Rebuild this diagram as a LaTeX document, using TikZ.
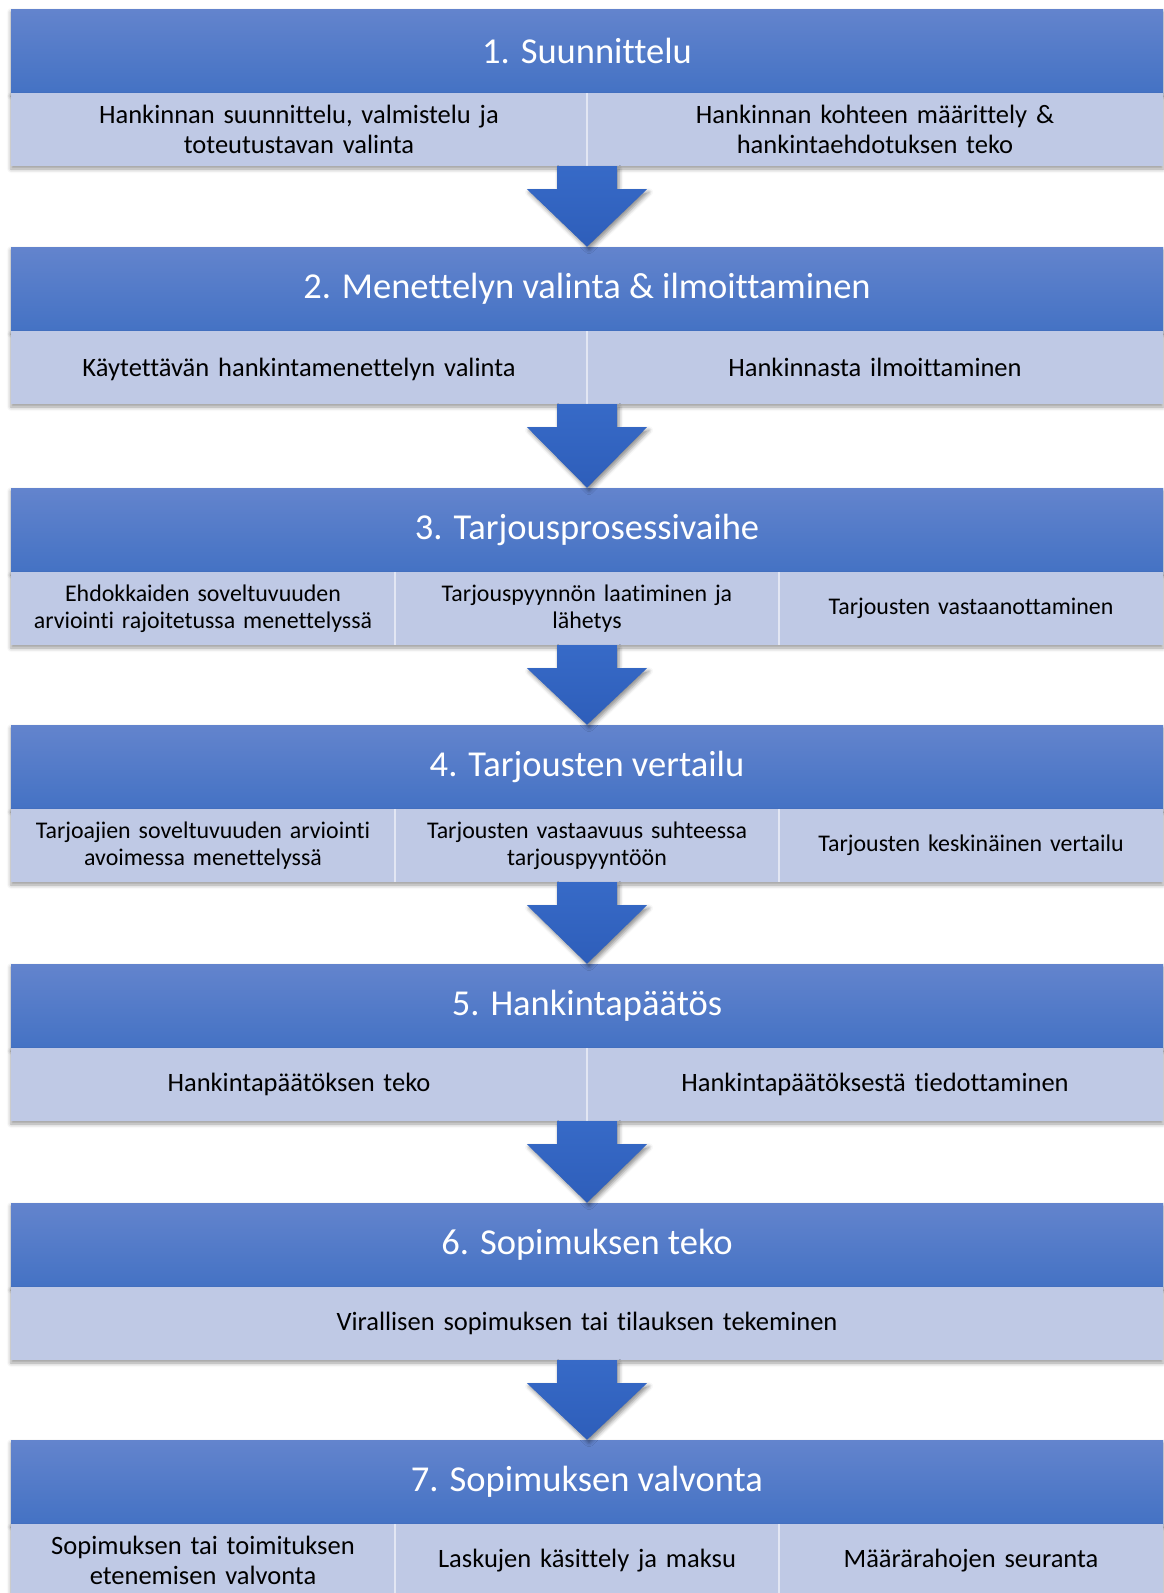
\documentclass[tikz,border=0pt]{standalone}
\usepackage{fontspec}
\setmainfont{Carlito}[RawFeature={-liga,-clig,-calt}]
\usetikzlibrary{shadows.blur}
\definecolor{headtop}{RGB}{99,132,205}
\definecolor{headbot}{RGB}{68,114,196}
\definecolor{rowfill}{RGB}{191,201,229}
\definecolor{arrowtop}{RGB}{55,106,199}
\definecolor{arrowbot}{RGB}{46,94,186}
\tikzset{
  stage/.style={rectangle, minimum width=1152pt, inner sep=0pt,
    blur shadow={shadow xshift=0pt, shadow yshift=-3pt, shadow blur radius=4pt, shadow opacity=40}},
  head/.style={stage, minimum height=84pt, top color=headtop, bottom color=headbot,
    text=white, font=\fontsize{36.5}{40}\selectfont},
  row/.style={stage, minimum height=73pt, fill=rowfill},
  cell/.style={rectangle, minimum height=73pt, inner sep=0pt, align=center,
    font=\fontsize{26.5}{29.5}\selectfont},
  half/.style={cell, minimum width=576pt, text width=560pt},
  third/.style={cell, minimum width=384pt, text width=376pt},
  smallthird/.style={third, font=\fontsize{23.9}{27.2}\selectfont},
  whole/.style={cell, minimum width=1152pt, text width=1100pt},
  divider/.style={draw=white, draw opacity=0.55, line width=1.5pt},
  blockarrow/.style={top color=arrowtop, bottom color=arrowbot,
    blur shadow={shadow xshift=2pt, shadow yshift=-3pt, shadow blur radius=4pt, shadow opacity=45}},
}
\newcommand{\stagedown}[2]{%
  \path[blockarrow] ([xshift=-30pt]#1.south) -- ([xshift=30pt]#1.south)
    -- ([xshift=30pt,yshift=-23pt]#1.south) -- ([xshift=60pt,yshift=-23pt]#1.south)
    -- (#2.north) -- ([xshift=-60pt,yshift=-23pt]#1.south)
    -- ([xshift=-30pt,yshift=-23pt]#1.south) -- cycle;}
\begin{document}
\begin{tikzpicture}[x=1pt,y=-1pt]
    \useasboundingbox (0,0) rectangle (1163,1593);

    \node[head] (h1) at (587,51) {1. Suunnittelu};
    \node[row] (r1) at (587,129.5) {};
    \node[half] (c11) at (299,129.5) {Hankinnan suunnittelu, valmistelu ja\\toteutustavan valinta};
    \node[half] (c12) at (875,129.5) {Hankinnan kohteen määrittely \&\\hankintaehdotuksen teko};
    \path[divider] (c11.north east) -- (c11.south east);

    \node[head] (h2) at (587,289) {2. Menettelyn valinta \& ilmoittaminen};
    \node[row] (r2) at (587,367.5) {};
    \node[half] (c21) at (299,369.5) {Käytettävän hankintamenettelyn valinta};
    \node[half] (c22) at (875,367.5) {Hankinnasta ilmoittaminen};
    \path[divider] (c22.north west) -- (c22.south west);

    \node[head] (h3) at (587,530) {3. Tarjousprosessivaihe};
    \node[row] (r3) at (587,608.5) {};
    \node[smallthird] (c31) at (203,608.5) {Ehdokkaiden soveltuvuuden\\arviointi rajoitetussa menettelyssä};
    \node[smallthird] (c32) at (587,608.5) {Tarjouspyynnön laatiminen ja\\lähetys};
    \node[smallthird] (c33) at (971,608.5) {Tarjousten vastaanottaminen};
    \path[divider] (c31.north east) -- (c31.south east);
    \path[divider] (c32.north east) -- (c32.south east);

    \node[head] (h4) at (587,767) {4. Tarjousten vertailu};
    \node[row] (r4) at (587,845.5) {};
    \node[smallthird] (c41) at (203,845.5) {Tarjoajien soveltuvuuden arviointi\\avoimessa menettelyssä};
    \node[smallthird] (c42) at (587,845.5) {Tarjousten vastaavuus suhteessa\\tarjouspyyntöön};
    \node[smallthird] (c43) at (971,845.5) {Tarjousten keskinäinen vertailu};
    \path[divider] (c41.north east) -- (c41.south east);
    \path[divider] (c42.north east) -- (c42.south east);

    \node[head] (h5) at (587,1006) {5. Hankintapäätös};
    \node[row] (r5) at (587,1084.5) {};
    \node[half] (c51) at (299,1084.5) {Hankintapäätöksen teko};
    \node[half] (c52) at (875,1084.5) {Hankintapäätöksestä tiedottaminen};
    \path[divider] (c51.north east) -- (c51.south east);

    \node[head] (h6) at (587,1245) {6. Sopimuksen teko};
    \node[row] (r6) at (587,1323.5) {};
    \node[whole] (c61) at (587,1323.5) {Virallisen sopimuksen tai tilauksen tekeminen};

    \node[head] (h7) at (587,1482) {7. Sopimuksen valvonta};
    \node[row] (r7) at (587,1560.5) {};
    \node[third] (c71) at (203,1560.5) {Sopimuksen tai toimituksen\\etenemisen valvonta};
    \node[third] (c72) at (587,1560.5) {Laskujen käsittely ja maksu};
    \node[third] (c73) at (971,1560.5) {Määrärahojen seuranta};
    \path[divider] (c71.north east) -- (c71.south east);
    \path[divider] (c72.north east) -- (c72.south east);

    \stagedown{r1}{h2}
    \stagedown{r2}{h3}
    \stagedown{r3}{h4}
    \stagedown{r4}{h5}
    \stagedown{r5}{h6}
    \stagedown{r6}{h7}
\end{tikzpicture}
\end{document}
